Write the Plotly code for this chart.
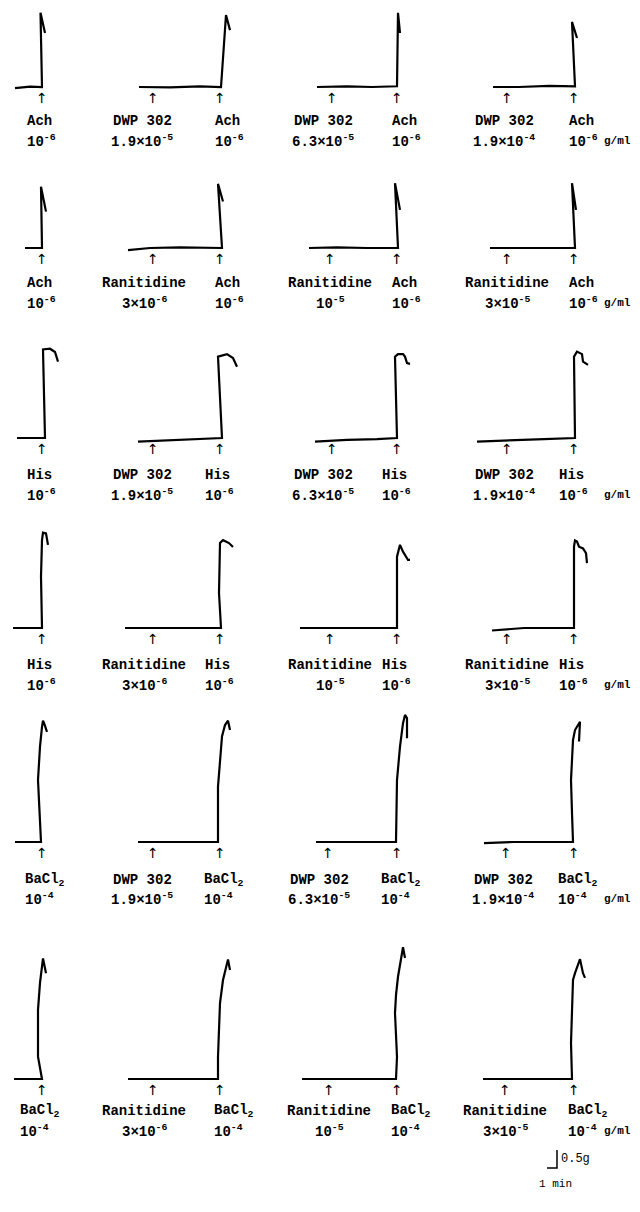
import plotly.graph_objects as go

# ---------------- data (time in min, tension in g, 0 = baseline / agonist addition) -------------
agonists = ["Ach", "Ach", "His", "His", "BaCl<sub>2</sub>", "BaCl<sub>2</sub>"]
agonist_conc = ["10<sup>-6</sup>", "10<sup>-6</sup>", "10<sup>-6</sup>", "10<sup>-6</sup>",
                "10<sup>-4</sup>", "10<sup>-4</sup>"]
antagonists = ["DWP 302", "Ranitidine", "DWP 302", "Ranitidine", "DWP 302", "Ranitidine"]
dwp_conc = ["1.9×10<sup>-5</sup>", "6.3×10<sup>-5</sup>", "1.9×10<sup>-4</sup>"]
ran_conc = ["3×10<sup>-6</sup>", "10<sup>-5</sup>", "3×10<sup>-5</sup>"]
unit = "g/ml"

# antagonist addition times (min before agonist), columns 2-4
antagonist_time = [
    [-6.7, -6.5, -6.7],
    [-6.7, -6.7, -6.7],
    [-6.7, -6.5, -6.7],
    [-6.7, -6.7, -6.7],
    [-6.7, -6.9, -6.8],
    [-6.7, -6.8, -6.9],
]

# row 1: Ach, DWP 302
ach_dwp_t = [[-2.7, -1.2, 0.0, -0.15, 0.3],
             [-8.1, -5.0, -2.0, 0.1, 0.6, 1.0],
             [-8.0, -5.0, -2.5, 0.0, 0.1, 0.3],
             [-8.1, -5.5, -2.5, 0.1, -0.2, 0.3]]
ach_dwp_g = [[-0.03, 0.01, 0.0, 2.06, 1.5],
             [0.0, -0.01, 0.02, 0.0, 2.0, 1.58],
             [0.0, 0.02, 0.0, 0.02, 2.06, 1.5],
             [0.0, 0.0, 0.03, 0.02, 1.81, 1.36]]
# row 2: Ach, Ranitidine
ach_ran_t = [[-1.7, -0.5, 0.0, -0.1, 0.4],
             [-9.2, -7.0, -4.0, -1.0, 0.2, -0.2, 0.3],
             [-8.8, -6.0, -3.0, 0.1, -0.2, 0.3],
             [-8.4, -5.0, -2.0, 0.1, -0.2, 0.2]]
ach_ran_g = [[0.0, 0.0, 0.0, 1.70, 1.01],
             [-0.06, 0.0, 0.02, 0.0, 0.0, 1.78, 1.29],
             [0.0, 0.02, 0.0, 0.0, 1.80, 1.06],
             [0.0, 0.0, 0.0, 0.0, 1.80, 1.06]]
# row 3: His, DWP 302
his_dwp_t = [[-2.5, -1.0, 0.3, 0.1, 0.8, 1.3, 1.6],
             [-8.2, -5.0, -2.0, 0.2, -0.2, 0.7, 1.3, 1.7],
             [-8.2, -5.0, -2.0, 0.0, -0.2, 0.1, 0.6, 0.8, 1.0, 1.3],
             [-9.7, -6.0, -3.0, 0.1, 0.0, 0.3, 0.8, 0.9, 1.4]]
his_dwp_g = [[0.0, 0.0, 0.0, 2.46, 2.48, 2.39, 2.12],
             [-0.1, -0.06, -0.02, 0.0, 2.26, 2.33, 2.22, 1.98],
             [-0.1, -0.05, -0.03, 0.0, 2.26, 2.33, 2.33, 2.26, 2.08, 2.06],
             [-0.1, -0.05, -0.03, 0.0, 2.26, 2.40, 2.33, 2.12, 2.03]]
# row 4: His, Ranitidine
his_ran_t = [[-2.9, -1.0, 0.0, -0.1, 0.0, 0.1, 0.4, 0.6],
             [-9.5, -6.0, -3.0, 0.1, -0.1, 0.0, 0.3, 0.9, 1.3],
             [-9.7, -6.0, -3.0, 0.0, 0.0, 0.3, 0.6, 1.1, 1.3],
             [-8.2, -5.0, -2.0, 0.0, 0.0, 0.1, 0.3, 0.5, 0.9, 1.2, 1.3]]
his_ran_g = [[0.0, 0.0, 0.0, 1.43, 2.44, 2.65, 2.63, 2.31],
             [0.0, 0.0, 0.0, 0.0, 0.97, 2.36, 2.44, 2.36, 2.25],
             [0.0, 0.0, 0.02, 0.0, 1.98, 2.31, 2.12, 1.89, 1.89],
             [-0.07, 0.0, 0.0, 0.0, 2.26, 2.43, 2.40, 2.26, 2.21, 2.08, 1.80]]
# row 5: BaCl2, DWP 302
ba_dwp_t = [[-2.7, -1.0, -0.1, -0.4, -0.2, 0.0, 0.1, 0.2, 0.5],
            [-8.2, -5.0, -2.0, -0.2, -0.2, 0.2, 0.5, 0.8, 1.0],
            [-8.1, -5.0, -2.0, -0.1, 0.0, 0.3, 0.6, 0.8, 1.0, 1.0],
            [-9.0, -6.0, -3.0, -0.1, -0.2, -0.3, -0.1, 0.1, 0.6, 0.5]]
ba_dwp_g = [[0.0, 0.01, 0.0, 1.72, 2.65, 3.20, 3.37, 3.31, 3.06],
            [0.0, 0.0, 0.0, 0.0, 1.54, 2.93, 3.25, 3.37, 3.11],
            [0.0, 0.0, 0.0, 0.0, 1.72, 2.65, 3.30, 3.53, 3.44, 2.88],
            [-0.03, 0.0, 0.0, 0.0, 0.81, 1.72, 2.83, 3.11, 3.34, 2.79]]
# row 6: BaCl2, Ranitidine
ba_ran_t = [[-2.8, -1.0, 0.0, -0.4, -0.4, -0.2, 0.1, 0.4],
            [-9.2, -6.0, -3.0, -0.2, -0.2, 0.0, 0.3, 0.8, 1.0],
            [-9.5, -6.0, -3.0, -0.1, 0.0, -0.2, -0.1, 0.1, 0.6, 0.8],
            [-9.1, -6.0, -3.0, -0.2, -0.3, -0.1, 0.1, 0.6, 0.9, 1.1]]
ba_ran_g = [[0.0, 0.0, 0.0, 0.62, 1.92, 2.67, 3.35, 2.94],
            [0.0, 0.0, 0.0, 0.0, 0.62, 2.11, 2.75, 3.32, 3.03],
            [0.0, 0.0, 0.0, 0.0, 0.62, 1.83, 2.33, 2.84, 3.66, 3.36],
            [0.0, 0.0, 0.0, 0.0, 1.0, 2.75, 2.94, 3.33, 2.94, 2.81]]

scale_time = 1.0   # min
scale_force = 0.5  # g

# ---------------- layout / style ----------------
PAGE_W = 640
BODY = 8                                 # default page margin around the plot div
W, H = PAGE_W - BODY, 1190
PX_PER_MIN = 10.0
PX_PER_G = 36.0
COL_X = [42, 220, 397, 574]              # page px x of agonist addition per column
ROW_Y = [87, 248, 438, 628, 842, 1079]   # page px y of baseline per row
LABEL_DY = [(34, 54), (35, 55), (37, 57), (37, 57), (38, 57), (32, 52)]
# left offset (px) of agonist labels from agonist arrow, per row: [col1, cols2-4]
AG_LEFT = [(-17, -7), (-17, -7), (-17, -17), (-17, -17), (-19, -18), (-24, -8)]
ANT_SHIFT = {"DWP 302": [-11, -9, -3], "Ranitidine": [-9, 0, 0]}
FONT = dict(family="Liberation Mono", size=14, color="black", weight="bold")
UNIT_FONT = dict(family="Liberation Mono", size=11, color="black", weight="bold")
ARROW_FONT = dict(family="DejaVu Sans", size=14, color="black")

rows_t = [ach_dwp_t, ach_ran_t, his_dwp_t, his_ran_t, ba_dwp_t, ba_ran_t]
rows_g = [ach_dwp_g, ach_ran_g, his_dwp_g, his_ran_g, ba_dwp_g, ba_ran_g]

fig = go.Figure()
annotations = []


def label(xa, ya, x, text, dy, xshift, anchor, font=FONT):
    annotations.append(dict(x=x, y=0, xref=xa, yref=ya, text=text, showarrow=False,
                            yshift=-dy, xshift=xshift, font=font,
                            xanchor=anchor, yanchor="middle"))


for r in range(6):
    ya = "y" if r == 0 else f"y{r+1}"
    antc = dwp_conc if antagonists[r] == "DWP 302" else ran_conc
    d1, d2 = LABEL_DY[r]
    for c in range(4):
        xa = "x" if c == 0 else f"x{c+1}"
        fig.add_trace(go.Scatter(
            x=rows_t[r][c], y=rows_g[r][c], xaxis=xa, yaxis=ya, mode="lines",
            line=dict(color="black", width=2.2), hoverinfo="skip", showlegend=False))
        times = [0.0] if c == 0 else [antagonist_time[r][c-1], 0.0]
        for tt in times:
            label(xa, ya, tt, "↑", 11, 0, "center", ARROW_FONT)
        left = AG_LEFT[r][0] if c == 0 else AG_LEFT[r][1]
        label(xa, ya, 0, agonists[r], d1, left, "left")
        label(xa, ya, 0, agonist_conc[r], d2, left, "left")
        if c > 0:
            ta = antagonist_time[r][c-1]
            sh = ANT_SHIFT[antagonists[r]][c-1]
            label(xa, ya, ta, antagonists[r], d1, sh, "center")
            label(xa, ya, ta, antc[c-1], d2, sh, "center")
        if c == 3:
            label(xa, ya, 0, unit, d2, 28, "left", UNIT_FONT)

# scale bar (col 4 x-axis, row 6 y-axis)
sb_t0, sb_g0 = -1.7, -2.47
fig.add_trace(go.Scatter(
    x=[sb_t0 - scale_time, sb_t0, sb_t0], y=[sb_g0, sb_g0, sb_g0 + scale_force],
    xaxis="x4", yaxis="y6", mode="lines", line=dict(color="black", width=1.5),
    hoverinfo="skip", showlegend=False))
annotations.append(dict(x=sb_t0, y=sb_g0 + scale_force / 2, xref="x4", yref="y6",
                        text="0.5g", showarrow=False, xanchor="left", xshift=2,
                        font=dict(family="Liberation Mono", size=12, color="black")))
annotations.append(dict(x=sb_t0 - scale_time / 2, y=sb_g0, xref="x4", yref="y6",
                        text="1 min", showarrow=False, yshift=-16, xshift=3,
                        font=dict(family="Liberation Mono", size=11, color="black")))

layout = dict(width=W, height=H, margin=dict(l=0, r=0, t=0, b=0),
              paper_bgcolor="white", plot_bgcolor="rgba(0,0,0,0)",
              annotations=annotations, showlegend=False)
for c in range(4):
    key = "xaxis" if c == 0 else f"xaxis{c+1}"
    layout[key] = dict(domain=[0, 1],
                       range=[(BODY - COL_X[c]) / PX_PER_MIN, (BODY + W - COL_X[c]) / PX_PER_MIN],
                       visible=False, fixedrange=True, anchor="y")
for r in range(6):
    key = "yaxis" if r == 0 else f"yaxis{r+1}"
    layout[key] = dict(domain=[0, 1],
                       range=[(ROW_Y[r] - BODY - H) / PX_PER_G, (ROW_Y[r] - BODY) / PX_PER_G],
                       visible=False, fixedrange=True, anchor="x")
fig.update_layout(**layout)
fig.write_html("out.html")
